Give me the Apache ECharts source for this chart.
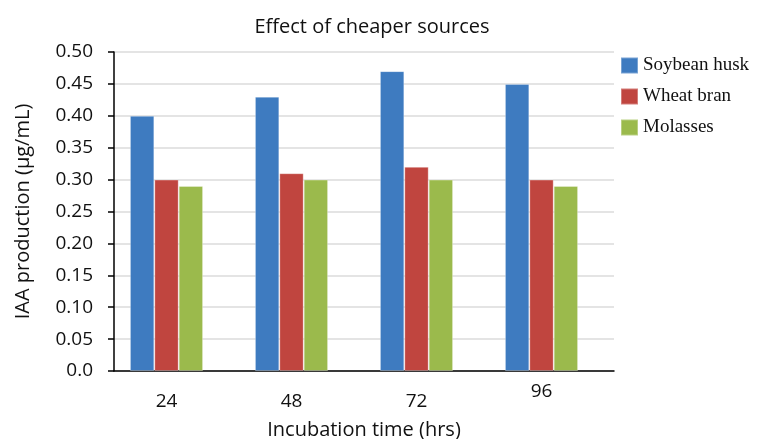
<!DOCTYPE html>
<html><head><meta charset="utf-8">
<script src="https://cdn.jsdelivr.net/npm/echarts@6/dist/echarts.min.js"></script>
<style>html,body{margin:0;padding:0;background:#fff}#c{width:766px;height:439px}</style>
</head><body><div id="c"></div>
<script>
const categories = ['24', '48', '72', '96'];
const soybeanHusk = [0.40, 0.43, 0.47, 0.45];
const wheatBran = [0.30, 0.31, 0.32, 0.30];
const molasses = [0.29, 0.30, 0.30, 0.29];
const seriesNames = ['Soybean husk', 'Wheat bran', 'Molasses'];
const colors = ['#3E7BC0', '#C0453F', '#9BBA4C'];

const font = '"Open Sans", "Noto Sans", sans-serif';
const chart = echarts.init(document.getElementById('c'));
const mk = (name, data, color) => ({
  name, type: 'bar', data, barGap: '0%', barCategoryGap: '41.5%',
  xAxisIndex: 1, yAxisIndex: 1,
  itemStyle: { color, borderColor: 'rgba(255,255,255,0.3)', borderWidth: 1 }
});
chart.setOption({
  animation: false,
  title: { text: 'Effect of cheaper sources', left: 367, top: 12, textAlign: 'center',
    textStyle: { fontFamily: font, fontSize: 20, fontWeight: 'normal', color: '#111' } },
  legend: { orient: 'vertical', left: 615, top: 51, itemWidth: 17, itemHeight: 16, itemGap: 12,
    icon: 'rect', textStyle: { fontFamily: '"Liberation Serif", "Times New Roman", serif', fontSize: 19, color: '#111' },
    data: seriesNames },
  grid: [
    { left: 114, width: 500, top: 52, bottom: 68, outerBoundsMode: 'none', containLabel: false },
    { left: 104, width: 500, top: 52, bottom: 68, outerBoundsMode: 'none', containLabel: false }
  ],
  xAxis: [{
    gridIndex: 0, type: 'category', data: categories,
    name: 'Incubation time (hrs)', nameLocation: 'middle', nameGap: 49,
    nameTextStyle: { fontFamily: font, fontSize: 20, color: '#111' },
    axisLine: { lineStyle: { color: '#000', width: 1.5 } },
    axisTick: { length: 8, lineStyle: { color: '#000', width: 1.5 } },
    axisLabel: { show: false }
  }, {
    gridIndex: 1, type: 'category',
    data: categories.map((c, i) => i === 3 ? { value: c, textStyle: { verticalAlign: 'middle' } } : c),
    axisLine: { show: false }, axisTick: { show: false },
    axisLabel: { fontFamily: font, fontSize: 19, color: '#111', margin: 21 }
  }],
  yAxis: [{
    gridIndex: 0, type: 'value', min: 0, max: 0.5, interval: 0.05,
    name: 'IAA production (μg/mL)', nameLocation: 'middle', nameGap: 81,
    nameTextStyle: { fontFamily: font, fontSize: 20, color: '#111' },
    axisLine: { show: true, lineStyle: { color: '#000', width: 1.5 } },
    axisTick: { show: true, length: 6, lineStyle: { color: '#000', width: 1.5 } },
    axisLabel: { fontFamily: font, fontSize: 19, color: '#111', margin: 21,
      formatter: v => v === 0 ? '0.0' : v.toFixed(2) },
    splitLine: { lineStyle: { color: '#e4e4e4', width: 2 } }
  }, {
    gridIndex: 1, type: 'value', min: 0, max: 0.5, interval: 0.05,
    axisLine: { show: false }, axisTick: { show: false }, axisLabel: { show: false }, splitLine: { show: false }
  }],
  series: [mk(seriesNames[0], soybeanHusk, colors[0]), mk(seriesNames[1], wheatBran, colors[1]), mk(seriesNames[2], molasses, colors[2])]
});
</script></body></html>
